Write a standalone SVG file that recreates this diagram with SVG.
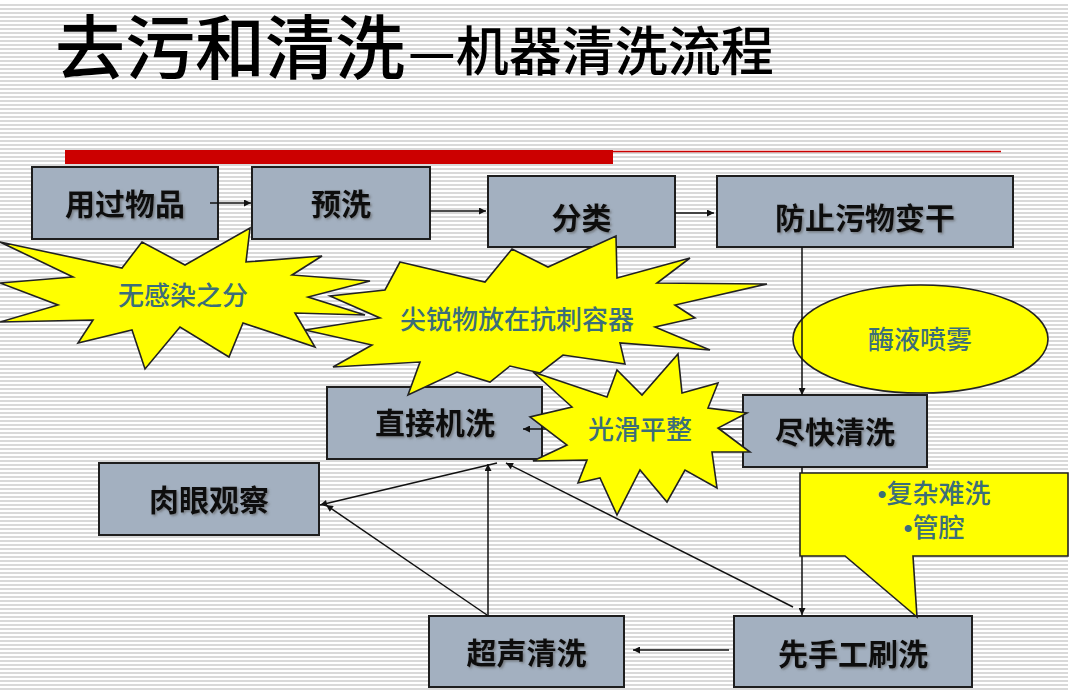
<svg xmlns="http://www.w3.org/2000/svg" width="1080" height="691" viewBox="0 0 1080 691">
<style>
.box{fill:#a3b0c0;stroke:#1e1e1e;stroke-width:2}
.bt{font-family:"Noto Sans CJK SC","Noto Sans CJK JP",sans-serif;font-size:30px;font-weight:bold;fill:#111;text-anchor:middle;filter:url(#sh)}
.yt{font-family:"Noto Sans CJK SC","Noto Sans CJK JP",sans-serif;font-size:26px;font-weight:500;fill:#3b6e7a;text-anchor:middle}
.bul{font-family:"Liberation Sans",sans-serif}
.star{fill:#ffff00;stroke:#222;stroke-width:1.6;stroke-linejoin:miter}
.ln{stroke:#111;stroke-width:1.5;fill:none;marker-end:url(#ah)}
.title{font-family:"Noto Sans CJK SC","Noto Sans CJK JP",sans-serif;font-weight:500;fill:#000}
</style>
<defs>
<pattern id="stripes" width="8" height="4" patternUnits="userSpaceOnUse">
<rect x="0" y="0" width="8" height="2" fill="#d9d9d9"/>
</pattern>
<marker id="ah" viewBox="0 0 10 10" refX="10" refY="5" markerWidth="8" markerHeight="7" markerUnits="userSpaceOnUse" orient="auto">
<path d="M0,0 L10,5 L0,10 z" fill="#111"/>
</marker>
<filter id="sh" x="-10%" y="-20%" width="130%" height="150%">
<feDropShadow dx="1.5" dy="1.5" stdDeviation="0.8" flood-color="#555" flood-opacity="0.6"/>
</filter>
</defs>

<rect width="1080" height="691" fill="#ffffff"/>
<rect x="0" y="2" width="1068" height="689" fill="url(#stripes)"/>

<g id="title">
<text class="title" x="55" y="74" font-size="70">去污和清洗</text>
<text class="title" x="408" y="71" font-size="53">—机器清洗流程</text>
</g>

<g id="rule">
<rect x="65" y="150" width="548" height="14" fill="#cc0000"/>
<line x1="613" y1="151.5" x2="1001" y2="151.5" stroke="#cc0000" stroke-width="1.5"/>
</g>

<g id="n-spray">
<ellipse cx="920.5" cy="339" rx="127.5" ry="54" fill="#ffff00" stroke="#222" stroke-width="1.6"/>
<text class="yt" x="920" y="349">酶液喷雾</text>
</g>

<g id="n-used"><rect class="box" x="32" y="167" width="186" height="72"/><text class="bt" x="125" y="215">用过物品</text></g>
<g id="n-prewash"><rect class="box" x="252" y="167" width="178" height="72"/><text class="bt" x="341" y="215">预洗</text></g>
<g id="n-sort"><rect class="box" x="488" y="176" width="187" height="71"/><text class="bt" x="581.5" y="229">分类</text></g>
<g id="n-keepwet"><rect class="box" x="717" y="176" width="296" height="71"/><text class="bt" x="865" y="229">防止污物变干</text></g>
<g id="n-machine"><rect class="box" x="327" y="387" width="215" height="72"/><text class="bt" x="435" y="434">直接机洗</text></g>
<g id="n-asap"><rect class="box" x="743" y="395" width="184" height="72"/><text class="bt" x="835" y="443">尽快清洗</text></g>
<g id="n-inspect"><rect class="box" x="99" y="463" width="220" height="72"/><text class="bt" x="209" y="511">肉眼观察</text></g>
<g id="n-ultra"><rect class="box" x="429" y="616" width="195" height="71"/><text class="bt" x="526.5" y="664">超声清洗</text></g>
<g id="n-manual"><rect class="box" x="734" y="616" width="238" height="71"/><text class="bt" x="853" y="665">先手工刷洗</text></g>

<g id="connectors">
<line class="ln" x1="210" y1="203" x2="251" y2="203"/>
<line class="ln" x1="430" y1="211" x2="486" y2="211"/>
<line class="ln" x1="675" y1="213" x2="714" y2="213"/>
<line class="ln" x1="802" y1="247" x2="802" y2="395"/>
<line class="ln" x1="743" y1="429" x2="523" y2="429"/>
<line class="ln" x1="802" y1="467" x2="802" y2="615"/>
<line class="ln" x1="729" y1="650" x2="633" y2="650"/>
<line class="ln" x1="793" y1="607" x2="506" y2="463"/>
<line class="ln" x1="488" y1="616" x2="488" y2="464"/>
<line class="ln" x1="487" y1="615" x2="326" y2="505"/>
<line class="ln" x1="497" y1="463" x2="320" y2="505"/>
</g>

<g id="n-star1">
<polygon class="star" points="0,242 122,268 142,242 185,265 250,228 246,262 322,256 292,275 370,281 308,297 365,315 295,313 315,347 243,323 229,357 180,327 145,369 132,330 78,343 93,320 0,322 58,305 0,283 73,277"/>
<text class="yt" x="183" y="305">无感染之分</text>
</g>
<g id="n-star2">
<polygon class="star" points="400,262 485,282 512,249 548,267 616,236 617,278 690,258 657,283 767,284 675,305 695,318 655,327 710,350 620,343 625,364 563,355 540,373 510,366 490,382 457,372 408,395 420,362 333,367 372,345 305,330 380,318 330,296 385,290"/>
<text class="yt" x="517" y="329">尖锐物放在抗刺容器</text>
</g>
<g id="n-star3">
<polygon class="star" points="533,372 607,397 617,370 642,395 678,354 682,393 718,383 708,408 747,413 718,428 750,452 712,452 717,488 685,470 667,502 640,470 617,515 600,478 578,483 587,460 533,461 567,445 530,417 572,407"/>
<text class="yt" x="640" y="439">光滑平整</text>
</g>

<g id="n-callout">
<path d="M800,473 L1068,473 L1068,556 L913,556 L917,617 L845,556 L800,556 Z" fill="#ffff00" stroke="#222" stroke-width="1.6"/>
<text class="yt" x="934" y="503"><tspan class="bul">•</tspan>复杂难洗</text>
<text class="yt" x="934" y="537"><tspan class="bul">•</tspan>管腔</text>
</g>
</svg>
